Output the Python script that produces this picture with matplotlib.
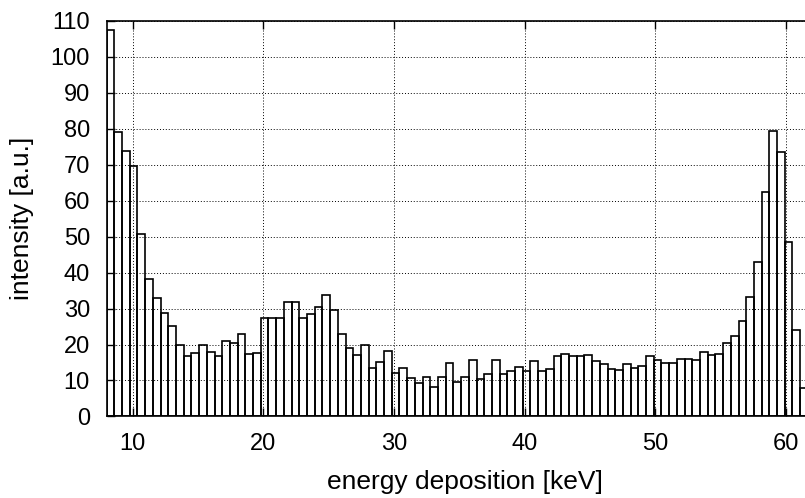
import numpy as np
import matplotlib
matplotlib.use("Agg")
import matplotlib.pyplot as plt

plt.rcParams["font.family"] = ["Liberation Sans", "DejaVu Sans"]

# histogram: first bin edge, bin width (keV) and counts per bin
bin_start = 8.0
bin_width = 0.59
counts = [
    107.4, 79.2, 73.7, 69.6, 50.7, 38.1, 33.0, 28.7, 25.1, 19.9,
    16.8, 17.7, 19.9, 17.8, 16.7, 21.1, 20.5, 22.8, 17.3, 17.7,
    27.5, 27.5, 27.5, 31.8, 31.7, 27.5, 28.4, 30.3, 33.7, 29.7,
    22.9, 18.9, 17.2, 19.8, 13.4, 15.2, 18.1, 12.2, 13.6, 10.6,
    9.4, 11.1, 8.1, 11.0, 14.8, 9.6, 10.9, 15.8, 10.4, 11.8,
    15.8, 11.9, 12.7, 13.7, 12.6, 15.4, 12.7, 13.1, 16.9, 17.5,
    16.7, 16.7, 17.0, 15.3, 14.5, 13.3, 12.9, 14.6, 13.6, 13.9,
    16.7, 15.6, 14.8, 15.0, 16.0, 16.0, 15.7, 18.0, 17.1, 17.4,
    20.5, 22.4, 26.6, 33.1, 43.0, 62.3, 79.3, 73.5, 48.4, 24.0, 8.0,
]
xticks = [10, 20, 30, 40, 50, 60]
yticks = list(range(0, 111, 10))

edges = bin_start + bin_width * np.arange(len(counts))

fig = plt.figure(figsize=(8.05, 4.98), dpi=100)
# plot area runs past the right edge of the picture (cropped original)
ax = fig.add_axes([0.1325, 0.1637, 1.0 - 0.1325, 0.7947])
ax.bar(edges, counts, width=bin_width, align="edge",
       facecolor="none", edgecolor="black", linewidth=1.2, zorder=3)

ax.set_xlim(8.0, 61.47)
ax.set_ylim(0, 110)
ax.set_xticks(xticks)
ax.set_yticks(yticks)
ax.grid(True, color="black", linestyle=(0, (1, 2)), linewidth=0.7, zorder=0)
ax.set_axisbelow(True)
ax.tick_params(direction="in", length=6, width=1, labelsize=17, pad=12,
               top=True, right=False)
ax.spines["right"].set_visible(False)
for s in ("left", "top", "bottom"):
    ax.spines[s].set_linewidth(1.2)

ax.set_xlabel("energy deposition [keV]", fontsize=19, labelpad=11)
ax.xaxis.label.set_x(0.513)
ax.set_ylabel("intensity [a.u.]", fontsize=19, labelpad=12)

fig.savefig("out.png", dpi=100)
